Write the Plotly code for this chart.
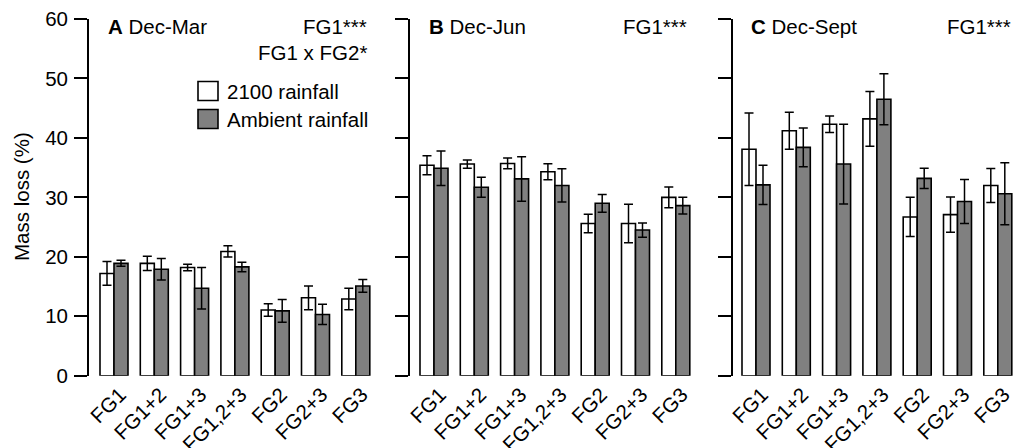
import plotly.graph_objects as go

categories = ["FG1", "FG1+2", "FG1+3", "FG1,2+3", "FG2", "FG2+3", "FG3"]

# Panel A: Dec-Mar
a_2100 = [17.2, 18.9, 18.2, 20.9, 11.05, 13.1, 12.9]
a_2100_err = [2.0, 1.2, 0.55, 0.95, 1.05, 2.0, 1.8]
a_amb = [18.9, 17.9, 14.7, 18.3, 10.9, 10.3, 15.1]
a_amb_err = [0.5, 1.8, 3.5, 0.8, 1.9, 1.7, 1.07]

# Panel B: Dec-Jun
b_2100 = [35.4, 35.6, 35.7, 34.3, 25.6, 25.6, 30.0]
b_2100_err = [1.6, 0.7, 0.9, 1.35, 1.55, 3.25, 1.75]
b_amb = [34.9, 31.7, 33.1, 32.0, 29.0, 24.5, 28.6]
b_amb_err = [2.9, 1.7, 3.75, 2.8, 1.5, 1.2, 1.4]

# Panel C: Dec-Sept
c_2100 = [38.1, 41.2, 42.3, 43.2, 26.7, 27.1, 32.0]
c_2100_err = [6.1, 3.1, 1.4, 4.6, 3.3, 2.95, 2.85]
c_amb = [32.1, 38.4, 35.6, 46.5, 33.2, 29.3, 30.6]
c_amb_err = [3.3, 3.25, 6.7, 4.3, 1.7, 3.7, 5.2]

y_ticks = [0, 10, 20, 30, 40, 50, 60]
panel_letters = ["A", "B", "C"]
panel_names = ["Dec-Mar", "Dec-Jun", "Dec-Sept"]
panel_stats = [["FG1***", "FG1 x FG2*"], ["FG1***"], ["FG1***"]]
series_names = ["2100 rainfall", "Ambient rainfall"]

W, H = 1013, 448
FONT = "Liberation Sans, Arial, sans-serif"
FS = 20.5
WHITE = "#ffffff"
GRAY = "#808080"

panels = [
    (a_2100, a_2100_err, a_amb, a_amb_err),
    (b_2100, b_2100_err, b_amb, b_amb_err),
    (c_2100, c_2100_err, c_amb, c_amb_err),
]

# pixel geometry
pitch = 40.3
axis_px = [89, 410, 733]
first_center_px = [114, 434, 756]
right_px = [380, 700, 1013]

fig = go.Figure()

for i, (w, we, g, ge) in enumerate(panels):
    xa = "x" if i == 0 else f"x{i+1}"
    ya = "y" if i == 0 else f"y{i+1}"
    for vals, errs, col, name in [(w, we, WHITE, series_names[0]), (g, ge, GRAY, series_names[1])]:
        fig.add_trace(go.Bar(
            x=list(range(len(categories))), y=vals,
            error_y=dict(type="data", array=errs, visible=True, color="black",
                         thickness=1.5, width=4.5),
            marker=dict(color=col, line=dict(color="black", width=1.6)),
            name=name, showlegend=False, xaxis=xa, yaxis=ya,
        ))
    x0 = -(first_center_px[i] - axis_px[i]) / pitch
    x1 = x0 + (right_px[i] - axis_px[i]) / pitch
    xkey = "xaxis" if i == 0 else f"xaxis{i+1}"
    ykey = "yaxis" if i == 0 else f"yaxis{i+1}"
    fig.update_layout(**{
        xkey: dict(domain=[axis_px[i] / W, right_px[i] / W], range=[x0, x1],
                   tickmode="array", tickvals=list(range(len(categories))),
                   ticktext=categories, tickangle=-45, showline=False, ticks="",
                   showgrid=False, zeroline=False, automargin=False,
                   ticklabelshift=6, ticklabelstandoff=2, ticklabeloverflow="allow",
                   tickfont=dict(size=FS, color="black", family=FONT),
                   anchor=ya, fixedrange=True),
        ykey: dict(domain=[(H - 375.7) / H, (H - 19) / H], range=[0, 60],
                   tickvals=y_ticks, showticklabels=(i == 0),
                   ticks="outside", ticklen=13, tickwidth=1.8, tickcolor="black",
                   showline=True, linecolor="black", linewidth=1.8,
                   showgrid=False, zeroline=False, automargin=False,
                   ticklabelstandoff=2,
                   tickfont=dict(size=FS, color="black", family=FONT),
                   anchor=xa, fixedrange=True),
    })

annotations = []
# y title
annotations.append(dict(text="Mass loss (%)", x=22 / W, y=1 - 197 / H, xref="paper", yref="paper",
                        textangle=-90, showarrow=False, xanchor="center", yanchor="middle",
                        font=dict(size=FS, color="black", family=FONT)))
title_x = [106, 427, 749]
stat_right = [369, 689, 1013]
for i in range(3):
    annotations.append(dict(text=f"<b>{panel_letters[i]}</b> {panel_names[i]}",
                            x=title_x[i] / W, y=1 - 27 / H, xref="paper", yref="paper",
                            showarrow=False, xanchor="left", yanchor="middle",
                            font=dict(size=FS, color="black", family=FONT)))
    for j, s in enumerate(panel_stats[i]):
        annotations.append(dict(text=s, x=stat_right[i] / W, y=1 - (27 + 25 * j) / H,
                                xref="paper", yref="paper", showarrow=False,
                                xanchor="right", yanchor="middle",
                                font=dict(size=FS, color="black", family=FONT)))

# legend (manual, in panel A)
shapes = []
leg_y = [91, 119]
for j, col in enumerate([WHITE, GRAY]):
    yc = leg_y[j]
    shapes.append(dict(type="rect", xref="paper", yref="paper",
                       x0=198 / W, x1=218 / W, y0=1 - (yc + 9.5) / H, y1=1 - (yc - 9.5) / H,
                       fillcolor=col, line=dict(color="black", width=1.6)))
    annotations.append(dict(text=series_names[j], x=225 / W, y=1 - yc / H, xref="paper", yref="paper",
                            showarrow=False, xanchor="left", yanchor="middle",
                            font=dict(size=FS, color="black", family=FONT)))

fig.update_layout(
    width=W, height=H, margin=dict(l=0, r=0, t=0, b=0),
    paper_bgcolor="white", plot_bgcolor="white",
    barmode="group", bargap=0.305, bargroupgap=0,
    annotations=annotations, shapes=shapes, showlegend=False,
    font=dict(family=FONT, color="black"),
)

fig.write_html("out.html", config={"displayModeBar": False},
               post_script="document.body.style.margin='0';document.body.style.overflow='hidden';")
